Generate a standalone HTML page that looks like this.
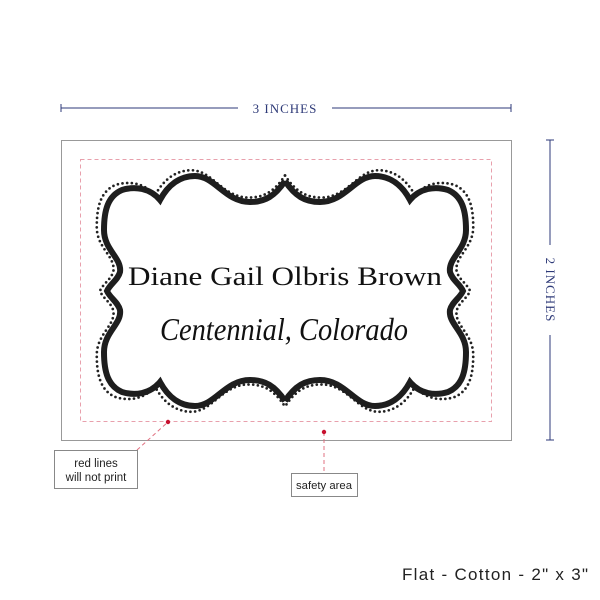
<!DOCTYPE html>
<html><head><style>body{margin:0;background:#fff}svg{display:block}</style></head><body>
<svg width="600" height="600" viewBox="0 0 600 600" xmlns="http://www.w3.org/2000/svg">
<defs>
<path id="half" d="M285,181 C275,196 265,202 250,202 C225,202 215,176 195,176 C180,176 168,185 160,200 C150,188 135,186 122,190 C108,196 104,210 104,230 C104,250 122,258 120,272 C118,280 110,284 107,291 C110,298 118,302 120,310 C122,324 104,332 104,352 C104,372 108,386 122,392 C135,396 150,394 160,382 C168,397 180,406 195,406 C215,406 225,380 250,380 C265,380 275,386 285,401"/>
</defs>
<g stroke="#2e3a78" stroke-width="1" fill="none">
<line x1="61" y1="108" x2="238" y2="108"/><line x1="332" y1="108" x2="511" y2="108"/>
<line x1="61" y1="104" x2="61" y2="112"/><line x1="511" y1="104" x2="511" y2="112"/>
<line x1="550" y1="140" x2="550" y2="245"/><line x1="550" y1="335" x2="550" y2="440"/>
<line x1="546" y1="140" x2="554" y2="140"/><line x1="546" y1="440" x2="554" y2="440"/>
</g>
<text x="285" y="113" text-anchor="middle" font-family="Liberation Serif, serif" font-size="13" fill="#2e3a78" letter-spacing="1">3 INCHES</text>
<text transform="translate(546,290) rotate(90)" text-anchor="middle" font-family="Liberation Serif, serif" font-size="13" fill="#2e3a78" letter-spacing="1">2 INCHES</text>
<rect x="61.5" y="140.5" width="450" height="300" fill="#fff" stroke="#999" stroke-width="1"/>
<rect x="80.5" y="159.5" width="411" height="262" fill="none" stroke="#e8a0ac" stroke-width="1" stroke-dasharray="4,3"/>
<g transform="translate(285,291) scale(1.04,1.05) translate(-285,-291)" fill="none" stroke="#222" stroke-width="2.6" stroke-linecap="round" stroke-dasharray="0 4.5">
<use href="#half"/><use href="#half" transform="translate(570,0) scale(-1,1)"/>
</g>
<g fill="none" stroke="#1e1e1e" stroke-width="6">
<use href="#half"/><use href="#half" transform="translate(570,0) scale(-1,1)"/>
</g>
<text x="285" y="285" text-anchor="middle" font-family="Liberation Serif, serif" font-size="26" fill="#111" textLength="314" lengthAdjust="spacingAndGlyphs">Diane Gail Olbris Brown</text>
<text x="284" y="340" text-anchor="middle" font-family="Liberation Serif, serif" font-style="italic" font-size="32" fill="#111" textLength="248" lengthAdjust="spacingAndGlyphs">Centennial, Colorado</text>
<g stroke="#e07080" stroke-width="1" stroke-dasharray="4,3" fill="none">
<line x1="137" y1="450" x2="168" y2="422"/><line x1="324" y1="432" x2="324" y2="473"/>
</g>
<circle cx="168" cy="422" r="2.2" fill="#c8102e"/><circle cx="324" cy="432" r="2.2" fill="#c8102e"/>
<rect x="54.5" y="450.5" width="83" height="38" fill="#fff" stroke="#888"/>
<text x="96" y="467" text-anchor="middle" font-family="Liberation Sans, sans-serif" font-size="11.5" fill="#222">red lines</text>
<text x="96" y="481" text-anchor="middle" font-family="Liberation Sans, sans-serif" font-size="11.5" fill="#222">will not print</text>
<rect x="291.5" y="473.5" width="66" height="23" fill="#fff" stroke="#888"/>
<text x="324" y="489" text-anchor="middle" font-family="Liberation Sans, sans-serif" font-size="11" fill="#222" textLength="56" lengthAdjust="spacingAndGlyphs">safety area</text>
<text x="402" y="580" font-family="Liberation Sans, sans-serif" font-size="17" fill="#222" textLength="186" lengthAdjust="spacing">Flat - Cotton - 2" x 3"</text>
</svg>
</body></html>
